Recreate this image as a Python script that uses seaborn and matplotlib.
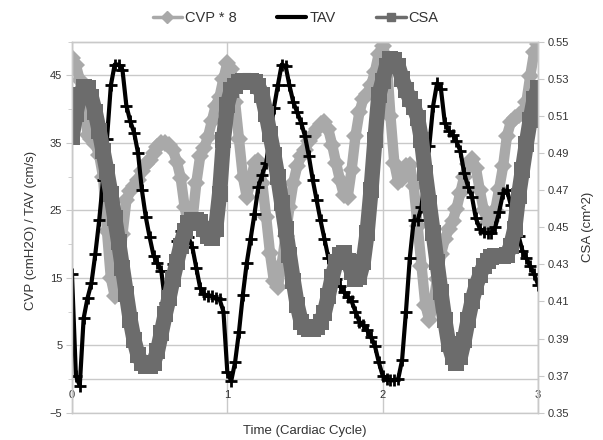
import numpy as np
import pandas as pd
import matplotlib
matplotlib.use("Agg")
import matplotlib.pyplot as plt
import seaborn as sns
from matplotlib.lines import Line2D

# sample times (3 cardiac cycles, 0.025 cycle step)
cycle = np.linspace(0, 3, 121)

# CVP * 8 (cmH2O)
cvp8 = [47.5, 46.5, 44.3, 41.0, 36.2, 35.5, 34.8, 33.2, 30.0, 22.0,
        15.0, 12.3, 15.5, 21.5, 26.5, 27.8, 28.6, 29.5, 30.8, 31.8,
        32.4, 33.5, 34.4, 35.0, 35.0, 34.7, 33.9, 32.2, 29.8, 25.5,
        22.5, 23.5, 29.0, 33.0, 34.2, 35.8, 38.2, 40.5, 41.8, 44.5,
        46.8, 46.0, 41.0, 35.5, 30.0, 27.0, 29.2, 32.0, 32.3, 29.0,
        24.0, 18.6, 14.5, 13.6, 17.0, 21.2, 25.5, 29.1, 31.6, 33.0,
        34.0, 35.2, 36.2, 37.1, 37.8, 38.1, 37.0, 34.7, 32.0, 29.5,
        27.3, 27.0, 31.0, 36.0, 39.5, 41.5, 42.2, 43.5, 45.5, 48.2,
        49.3, 47.5, 39.0, 32.0, 29.2, 29.6, 31.5, 31.7, 28.6, 22.7,
        16.8, 11.0, 8.7, 11.0, 14.8, 18.5, 20.7, 22.2, 23.4, 25.2,
        27.6, 30.0, 31.8, 32.6, 31.3, 28.0, 25.1, 23.3, 23.4, 25.0,
        28.2, 31.5, 36.0, 38.1, 38.7, 39.1, 39.4, 41.0, 44.9, 48.4,
        49.6]

# TAV (cm/s)
tav = [15.5, 0.5, -1.0, 9.0, 12.0, 14.2, 18.5, 23.5, 29.5, 35.5,
       43.5, 46.6, 46.6, 45.8, 40.5, 38.2, 36.5, 33.5, 28.0, 24.0,
       21.0, 18.3, 17.2, 16.0, 11.3, 13.5, 17.0, 20.5, 22.0, 22.3,
       21.0, 19.5, 16.5, 13.5, 12.6, 12.3, 12.3, 12.0, 11.8, 10.0,
       1.0, -0.3, 2.5, 7.0, 12.5, 17.2, 20.8, 24.5, 28.5, 30.3,
       32.0, 36.0, 40.2, 43.5, 46.6, 46.4, 43.5, 41.0, 39.5, 38.0,
       36.0, 33.0, 29.5, 26.5, 23.5, 20.8, 18.0, 16.0, 14.8, 13.8,
       12.9, 12.2, 11.5, 10.0, 8.5, 8.0, 7.2, 6.2, 4.9, 2.5,
       0.5, 0.0, -0.2, -0.2, 0.0, 2.8, 10.0, 18.0, 23.5, 23.5,
       25.5, 30.5, 34.5, 40.5, 43.8, 43.0, 38.0, 36.8, 36.2, 35.2,
       33.8, 30.5, 28.5, 27.0, 23.8, 22.3, 21.8, 21.6, 21.7, 22.5,
       24.8, 27.5, 28.0, 25.8, 22.8, 21.2, 19.0, 17.9, 16.7, 15.6,
       14.0]

# CSA (cm^2), right axis
csa = [0.4985, 0.511, 0.521, 0.5255, 0.525, 0.520, 0.512, 0.502, 0.491, 0.480,
       0.468, 0.455, 0.442, 0.428, 0.414, 0.400, 0.389, 0.381, 0.377, 0.375,
       0.375, 0.377, 0.383, 0.393, 0.403, 0.412, 0.422, 0.431, 0.440, 0.448,
       0.4525, 0.454, 0.454, 0.453, 0.449, 0.445, 0.444, 0.449, 0.468, 0.497,
       0.516, 0.524, 0.526, 0.528, 0.529, 0.529, 0.529, 0.528, 0.526, 0.521,
       0.511, 0.500, 0.489, 0.477, 0.463, 0.449, 0.435, 0.421, 0.408, 0.399,
       0.396, 0.395, 0.395, 0.396, 0.399, 0.404, 0.413, 0.423, 0.431, 0.435,
       0.436, 0.432, 0.426, 0.422, 0.423, 0.431, 0.447, 0.470, 0.497, 0.521,
       0.529, 0.537, 0.5405, 0.540, 0.537, 0.530, 0.524, 0.519, 0.515, 0.509,
       0.497, 0.479, 0.463, 0.447, 0.431, 0.415, 0.400, 0.387, 0.380, 0.377,
       0.380, 0.389, 0.400, 0.410, 0.418, 0.424, 0.429, 0.432, 0.434, 0.4345,
       0.4345, 0.4345, 0.435, 0.440, 0.449, 0.467, 0.481, 0.495, 0.508, 0.519,
       0.525]

left_ticks = [-5, 5, 15, 25, 35, 45]
right_ticks = [0.35, 0.37, 0.39, 0.41, 0.43, 0.45, 0.47, 0.49, 0.51, 0.53, 0.55]
x_ticks = [0, 1, 2, 3]

df = pd.DataFrame({"Cycle": cycle, "CVP * 8": cvp8, "TAV": tav, "CSA": csa})

sns.set_style("white")
plt.rcParams["font.family"] = ["Liberation Sans", "DejaVu Sans"]

c_cvp = "#a9a9a9"
c_tav = "#000000"
c_csa = "#6c6c6c"
grid_c = "#c9c9c9"
text_c = "#333333"

fig = plt.figure(figsize=(6.03, 4.40), dpi=100)
ax = fig.add_axes([0.1194, 0.062, 0.7728, 0.8434])
ax2 = ax.twinx()

sns.lineplot(data=df, x="Cycle", y="CVP * 8", ax=ax, color=c_cvp, linewidth=7.5,
             marker="D", markersize=9, markeredgewidth=0, markeredgecolor=c_cvp,
             solid_joinstyle="round", solid_capstyle="round", zorder=2)
sns.lineplot(data=df, x="Cycle", y="TAV", ax=ax, color=c_tav, linewidth=3,
             marker="+", markersize=9, markeredgewidth=2, markeredgecolor=c_tav,
             solid_joinstyle="round", zorder=3)
sns.lineplot(data=df, x="Cycle", y="CSA", ax=ax2, color=c_csa, linewidth=11,
             marker="s", markersize=11, markeredgewidth=0, markeredgecolor=c_csa,
             solid_joinstyle="round", solid_capstyle="butt")

ax.set_xlim(0, 3)
ax.set_ylim(-5, 50)
ax2.set_ylim(0.35, 0.55)

ax.set_xticks(x_ticks)
ax.set_yticks(left_ticks)
ax.set_yticks([0, 10, 20, 30, 40, 50], minor=True)
ax2.set_yticks(right_ticks)
ax2.set_yticklabels([f"{v:.2f}" for v in right_ticks])

ax.set_axisbelow(True)
ax.grid(True, color=grid_c, linewidth=1)

for a in (ax, ax2):
    for s in a.spines.values():
        s.set_color(grid_c)
        s.set_linewidth(1)
ax.spines["bottom"].set_position(("data", 0))

ax.tick_params(axis="x", length=0, pad=8, labelsize=8, labelcolor=text_c)
ax.tick_params(axis="y", which="major", length=4, color=grid_c, labelsize=8, labelcolor=text_c, pad=3)
ax.tick_params(axis="y", which="minor", length=3, color=grid_c)
ax2.tick_params(axis="y", length=4, color=grid_c, labelsize=8, labelcolor=text_c, pad=3)

ax.set_xlabel("Time (Cardiac Cycle)", fontsize=9.5, color=text_c)
ax.xaxis.set_label_coords(0.5, -0.032)
ax.set_ylabel("CVP (cmH2O) / TAV (cm/s)", fontsize=9.5, color=text_c)
ax.yaxis.set_label_coords(-0.075, 0.49)
ax2.set_ylabel("CSA (cm^2)", fontsize=9.5, color=text_c)
ax2.yaxis.set_label_coords(1.095, 0.5)

handles = [
    Line2D([], [], color=c_cvp, linewidth=2.5, marker="D", markersize=6),
    Line2D([], [], color=c_tav, linewidth=3),
    Line2D([], [], color=c_csa, linewidth=2.5, marker="s", markersize=6),
]
fig.legend(handles, ["CVP * 8", "TAV", "CSA"], loc="center", bbox_to_anchor=(0.49, 0.958),
           ncol=3, frameon=False, fontsize=10.5, handlelength=2.0, handletextpad=0.2,
           columnspacing=2.8, labelcolor=text_c)

fig.savefig("out.png", dpi=100)
